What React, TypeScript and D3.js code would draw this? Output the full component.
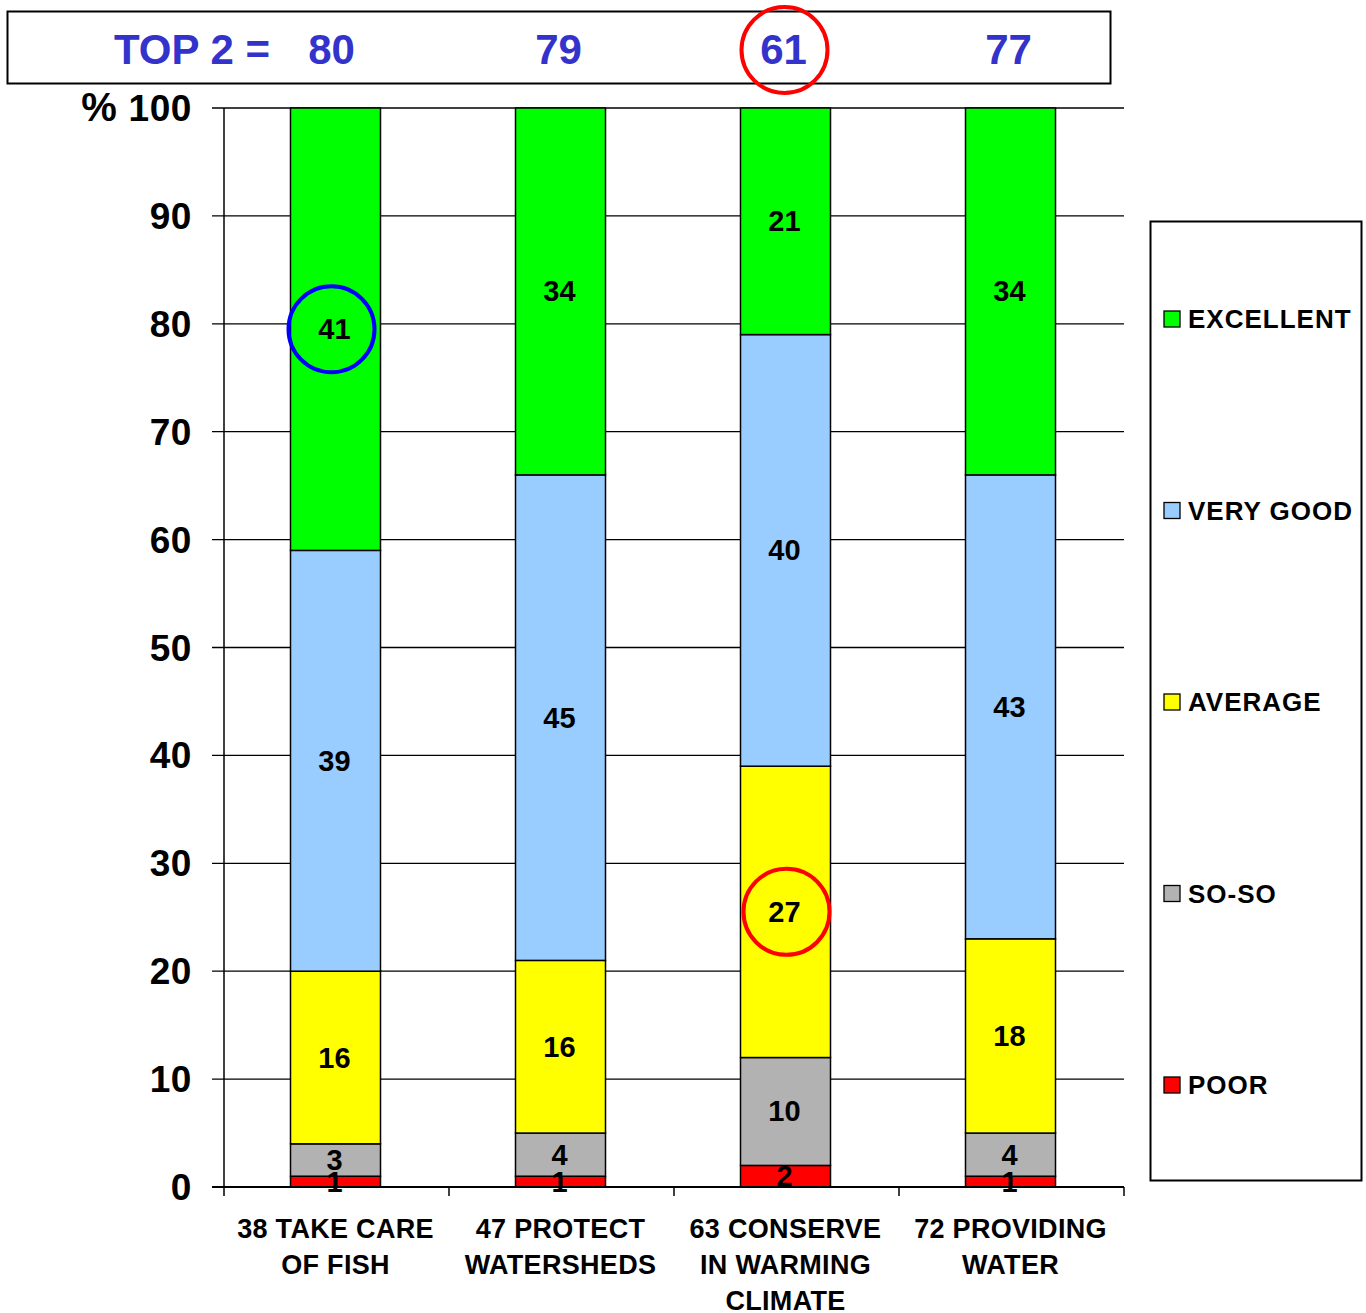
import React from "react";
import * as d3 from "d3";

const categories = ["38 TAKE CARE|OF FISH", "47 PROTECT|WATERSHEDS", "63 CONSERVE|IN WARMING|CLIMATE", "72 PROVIDING|WATER"];
const seriesNames = ["POOR", "SO-SO", "AVERAGE", "VERY GOOD", "EXCELLENT"];
const poor = [1, 1, 2, 1];
const soSo = [3, 4, 10, 4];
const average = [16, 16, 27, 18];
const veryGood = [39, 45, 40, 43];
const excellent = [41, 34, 21, 34];
const yTicks = [0, 10, 20, 30, 40, 50, 60, 70, 80, 90, 100];
const colors = ["#FF0000", "#B2B2B2", "#FFFF00", "#99CCFF", "#00FF00"];

const FONT = "'Liberation Sans', Arial, sans-serif";

export default function App() {
  const W = 1366, H = 1313;
  const left = 224, right = 1124, top = 108, bottom = 1187;
  const y = d3.scaleLinear().domain([0, 100]).range([bottom, top]);
  const x = d3.scaleBand<number>().domain(d3.range(categories.length)).range([left - 1, right - 1]).paddingInner(0.6).paddingOuter(0.3);

  const rows = categories.map((_, i) => ({
    POOR: poor[i], "SO-SO": soSo[i], AVERAGE: average[i], "VERY GOOD": veryGood[i], EXCELLENT: excellent[i],
  }));
  const stacked = d3.stack<any>().keys(seriesNames)(rows);
  const top2 = categories.map((_, i) => excellent[i] + veryGood[i]);

  const cx = (i: number) => (x(i) as number) + x.bandwidth() / 2;
  const legendYs = d3.scaleLinear().domain([4, 0]).range([319, 1085]);

  return (
    <svg width={W} height={H} style={{ position: "absolute", left: 0, top: 0 }} fontFamily={FONT}>
      <rect width={W} height={H} fill="#fff" />
      {/* header box with top-2 totals */}
      <rect x={7.5} y={11.5} width={1103} height={72} fill="#fff" stroke="#000" strokeWidth={2} />
      <text x={270} y={64} fontSize={42} fontWeight="bold" fill="#3333CC" textAnchor="end">TOP 2 =</text>
      {top2.map((v, i) => (
        <text key={i} x={cx(i) - (i === 0 ? 4 : 2)} y={64} fontSize={42} fontWeight="bold" fill="#3333CC" textAnchor="middle">{v}</text>
      ))}

      {/* gridlines and y ticks */}
      {yTicks.map((t) => (
        <g key={t}>
          <line x1={left - 12} x2={right} y1={y(t)} y2={y(t)} stroke="#000" strokeWidth={1.3} />
          <text x={192} y={y(t) + 13} fontSize={37} fontWeight="bold" textAnchor="end" letterSpacing={0.6}>{t}</text>
        </g>
      ))}
      <text x={99} y={y(100) + 13} fontSize={40} fontWeight="bold" textAnchor="middle">%</text>

      {/* bars */}
      {stacked.map((s, si) => (
        <g key={s.key}>
          {s.map((d, i) => (
            <rect key={i} x={x(i)} y={y(d[1])} width={x.bandwidth()} height={y(d[0]) - y(d[1])} fill={colors[si]} stroke="#000" strokeWidth={1.5} />
          ))}
        </g>
      ))}

      {/* axes */}
      <line x1={left} x2={left} y1={top} y2={bottom} stroke="#000" strokeWidth={1.5} />
      <line x1={left - 12} x2={right} y1={bottom} y2={bottom} stroke="#000" strokeWidth={2} />
      {d3.range(categories.length + 1).map((k) => {
        const xx = left + (k * (right - left)) / categories.length;
        return <line key={k} x1={xx} x2={xx} y1={bottom} y2={bottom + 9} stroke="#000" strokeWidth={1.5} />;
      })}

      {/* value labels */}
      {stacked.map((s) => (
        <g key={s.key}>
          {s.map((d, i) => (
            <text key={i} x={cx(i) - 1} y={(y(d[0]) + y(d[1])) / 2 + 10} fontSize={29} fontWeight="bold" textAnchor="middle">{d[1] - d[0]}</text>
          ))}
        </g>
      ))}

      {/* category labels */}
      {categories.map((c, i) => (
        <text key={i} x={cx(i)} fontSize={27} fontWeight="bold" textAnchor="middle" letterSpacing={0.3}>
          {c.split("|").map((line, li) => (
            <tspan key={li} x={cx(i)} y={1238 + li * 36}>{line}</tspan>
          ))}
        </text>
      ))}

      {/* highlight circles */}
      <circle cx={cx(2) - 1} cy={50} r={43} fill="none" stroke="#FF0000" strokeWidth={4} />
      <circle cx={cx(0) - 4} cy={y(stacked[4][0][0] + excellent[0] / 2)} r={43} fill="none" stroke="#0000FF" strokeWidth={4} />
      <circle cx={cx(2) + 1} cy={y(stacked[2][2][0] + average[2] / 2)} r={43} fill="none" stroke="#FF0000" strokeWidth={4} />

      {/* legend */}
      <rect x={1150.5} y={221.5} width={211} height={959} fill="#fff" stroke="#000" strokeWidth={2} />
      {seriesNames.map((n, si) => (
        <g key={n}>
          <rect x={1164} y={legendYs(si) - 8} width={16} height={16} fill={colors[si]} stroke="#000" strokeWidth={1.3} />
          <text x={1188} y={legendYs(si) + 9} fontSize={26} fontWeight="bold" letterSpacing={1}>{n}</text>
        </g>
      ))}
    </svg>
  );
}
